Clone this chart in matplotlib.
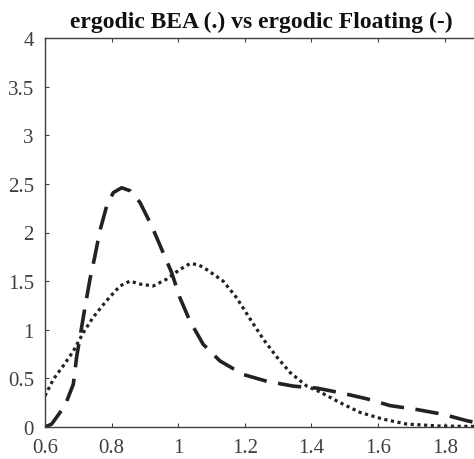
import numpy as np
import matplotlib
matplotlib.use("Agg")
import matplotlib.pyplot as plt

plt.rcParams['font.family'] = ['Liberation Serif', 'DejaVu Serif']

# ergodic Floating (dashed)
x_float = [0.600, 0.620, 0.660, 0.685, 0.695, 0.720, 0.735, 0.750, 0.765, 0.785,
           0.805, 0.830, 0.855, 0.885, 0.920, 0.950, 0.980, 1.005, 1.035, 1.075,
           1.125, 1.195, 1.266, 1.346, 1.416, 1.490, 1.566, 1.636, 1.716, 1.796,
           1.866, 1.900]
y_float = [0.00, 0.03, 0.22, 0.44, 0.72, 1.23, 1.52, 1.76, 2.02, 2.27,
           2.41, 2.46, 2.43, 2.31, 2.07, 1.83, 1.59, 1.33, 1.09, 0.85,
           0.68, 0.54, 0.47, 0.42, 0.40, 0.35, 0.29, 0.22, 0.18, 0.13,
           0.065, 0.04]

# ergodic BEA (dotted)
x_bea = [0.600, 0.625, 0.655, 0.685, 0.715, 0.745, 0.785, 0.825, 0.855, 0.885,
         0.925, 0.965, 1.005, 1.035, 1.060, 1.085, 1.135, 1.175, 1.216, 1.256,
         1.296, 1.336, 1.386, 1.426, 1.486, 1.546, 1.616, 1.686, 1.786, 1.900]
y_bea = [0.32, 0.49, 0.63, 0.78, 0.97, 1.13, 1.30, 1.45, 1.50, 1.47,
         1.45, 1.52, 1.62, 1.68, 1.67, 1.62, 1.50, 1.33, 1.11, 0.90,
         0.72, 0.56, 0.42, 0.36, 0.25, 0.15, 0.08, 0.03, 0.01, 0.005]

xticks = [0.6, 0.8, 1.0, 1.2, 1.4, 1.6, 1.8]
xticklabels = ['0.6', '0.8', '1', '1.2', '1.4', '1.6', '1.8']
yticks = [0, 0.5, 1, 1.5, 2, 2.5, 3, 3.5, 4]
yticklabels = ['0', '0.5', '1', '1.5', '2', '2.5', '3', '3.5', '4']

fig = plt.figure(figsize=(4.74, 4.60), dpi=100)
ax = fig.add_axes([45/474, 32/460, 433/474, 389/460])

ax.plot(x_bea, y_bea, color='#222222', lw=2.3, dashes=(1, 1.1),
        clip_on=True)
ax.plot(x_float, y_float, color='#222222', lw=2.6, dashes=(6.5, 3.2),
        dash_capstyle='butt')

ax.set_xlim(0.6, 1.9)
ax.set_ylim(0, 4)
ax.set_xticks(xticks)
ax.set_xticklabels(xticklabels)
ax.set_yticks(yticks)
ax.set_yticklabels(yticklabels)

grey = '#404040'
ax.tick_params(direction='in', length=3, width=0.8, colors=grey,
               labelsize=15, top=True, right=True)
ax.tick_params(axis='x', pad=8)
ax.tick_params(axis='y', pad=8)
for s in ax.spines.values():
    s.set_color(grey)
    s.set_linewidth(1.0)

ax.set_title('ergodic BEA (.) vs ergodic Floating (-)', fontsize=17,
             fontweight='bold', pad=8, color='#111111')

fig.savefig('out.png', dpi=100)
